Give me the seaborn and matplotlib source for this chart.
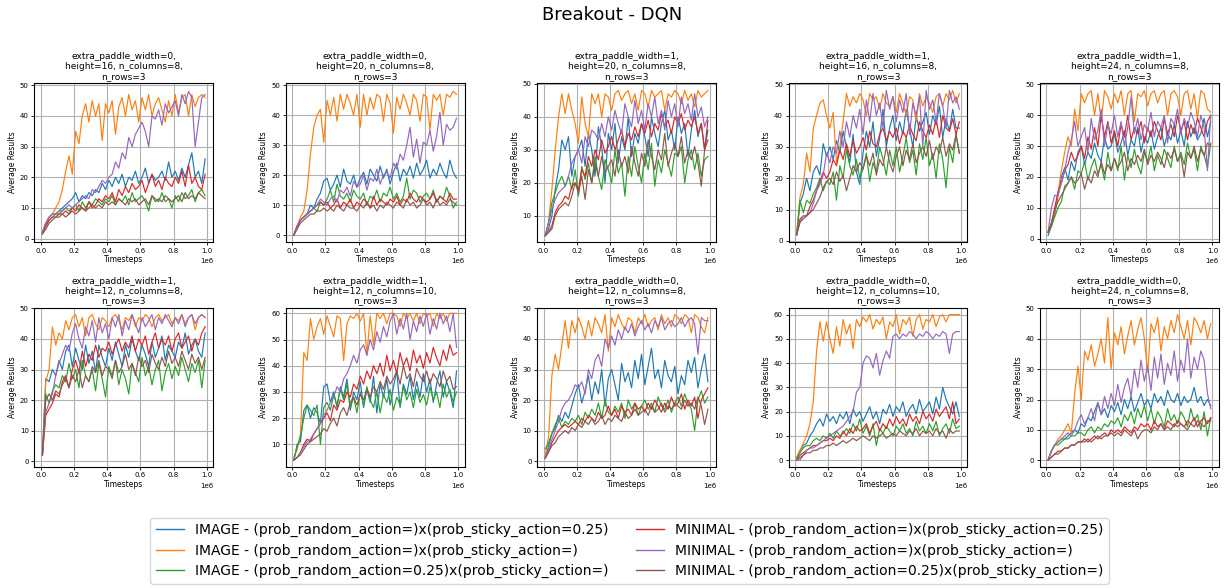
import numpy as np
import pandas as pd
import matplotlib
matplotlib.use("Agg")
import matplotlib.pyplot as plt
import seaborn as sns

# ---------------- data ----------------
SERIES = [
    "IMAGE - (prob_random_action=)x(prob_sticky_action=0.25)",
    "IMAGE - (prob_random_action=)x(prob_sticky_action=)",
    "IMAGE - (prob_random_action=0.25)x(prob_sticky_action=)",
    "MINIMAL - (prob_random_action=)x(prob_sticky_action=0.25)",
    "MINIMAL - (prob_random_action=)x(prob_sticky_action=)",
    "MINIMAL - (prob_random_action=0.25)x(prob_sticky_action=)",
]
COLORS = ["#1f77b4", "#ff7f0e", "#2ca02c", "#d62728", "#9467bd", "#8c564b"]

TITLES = [
    "extra_paddle_width=0,\nheight=16, n_columns=8,\nn_rows=3",
    "extra_paddle_width=0,\nheight=20, n_columns=8,\nn_rows=3",
    "extra_paddle_width=1,\nheight=20, n_columns=8,\nn_rows=3",
    "extra_paddle_width=1,\nheight=16, n_columns=8,\nn_rows=3",
    "extra_paddle_width=1,\nheight=24, n_columns=8,\nn_rows=3",
    "extra_paddle_width=1,\nheight=12, n_columns=8,\nn_rows=3",
    "extra_paddle_width=1,\nheight=12, n_columns=10,\nn_rows=3",
    "extra_paddle_width=0,\nheight=12, n_columns=8,\nn_rows=3",
    "extra_paddle_width=0,\nheight=12, n_columns=10,\nn_rows=3",
    "extra_paddle_width=0,\nheight=24, n_columns=8,\nn_rows=3",
]

# timesteps: 0.01e6 ... 0.99e6 every 0.02e6
TIMESTEP_START = 10000
TIMESTEP_STEP = 20000

# panel 1
p1_img_sticky = [2, 5, 7, 8, 8, 9, 10, 11, 12, 13, 15, 12, 14, 13, 15, 14, 16, 15, 18, 16, 19, 17, 20, 18, 21, 17, 20, 19, 22, 18, 20, 23, 18, 21, 19, 20, 22, 19, 25, 20, 22, 19, 23, 20, 24, 28, 20, 22, 18, 26]
p1_img_none = [2, 5, 7, 8, 10, 12, 16, 22, 27, 21, 35, 31, 40, 44, 38, 45, 40, 44, 32, 44, 41, 45, 34, 43, 46, 40, 47, 42, 45, 38, 46, 42, 47, 40, 44, 46, 42, 38, 45, 40, 47, 41, 46, 47, 40, 47, 43, 46, 47, 46]
p1_img_random = [1.5, 4, 6, 7, 8, 8, 9, 10, 9, 10, 11, 9, 12, 10, 12, 11, 13, 12, 11, 13, 12, 14, 11, 13, 12, 14, 11, 15, 12, 13, 14, 12, 9, 14, 13, 12, 15, 12, 13, 10, 14, 12, 15, 13, 14, 16, 12, 15, 16, 14]
p1_min_sticky = [2, 4, 6, 7, 7, 8, 8, 9, 8, 10, 9, 11, 10, 9, 12, 10, 11, 13, 12, 14, 13, 15, 12, 16, 14, 17, 15, 18, 16, 17, 19, 15, 18, 21, 17, 19, 16, 20, 18, 17, 20, 18, 22, 17, 24, 18, 20, 17, 16, 21]
p1_min_none = [2, 5, 7, 8, 8, 9, 9, 10, 11, 10, 11, 12, 13, 14, 13, 16, 15, 17, 19, 18, 20, 21, 25, 23, 28, 26, 33, 30, 34, 36, 38, 35, 30, 40, 39, 42, 37, 44, 41, 43, 45, 40, 47, 44, 48, 46, 30, 38, 46, 47]
p1_min_random = [1.5, 3, 5, 6, 7, 7, 8, 7, 8, 9, 8, 9, 10, 9, 10, 11, 10, 11, 10, 12, 11, 12, 11, 13, 12, 11, 13, 12, 13, 11, 12, 13, 11, 14, 12, 13, 12, 14, 13, 12, 13, 14, 12, 15, 13, 14, 13, 15, 14, 13]

# panel 2
p2_img_sticky = [0, 3, 5, 6, 7, 10, 9, 12, 14, 18, 19, 15, 17, 20, 16, 22, 18, 17, 20, 16, 19, 21, 17, 22, 20, 18, 23, 19, 22, 17, 21, 24, 18, 22, 20, 23, 19, 24, 20, 22, 25, 19, 22, 20, 24, 21, 19, 25, 21, 19]
p2_img_none = [0, 3, 6, 8, 15, 27, 36, 40, 42, 31, 45, 40, 46, 38, 47, 42, 47, 44, 40, 47, 36, 47, 40, 46, 42, 47, 46, 38, 47, 44, 34, 46, 42, 47, 44, 40, 47, 45, 38, 47, 46, 35, 47, 45, 47, 40, 47, 46, 48, 47]
p2_img_random = [0, 3, 5, 6, 7, 8, 9, 8, 11, 10, 12, 15, 11, 17, 13, 12, 14, 11, 15, 13, 12, 14, 10, 13, 12, 15, 11, 14, 13, 16, 12, 14, 11, 13, 19, 12, 15, 14, 11, 13, 14, 12, 15, 11, 13, 12, 16, 13, 9, 11]
p2_min_sticky = [0, 3, 5, 6, 7, 8, 9, 10, 11, 10, 11, 9, 10, 12, 9, 11, 10, 12, 9, 11, 10, 12, 11, 9, 13, 10, 12, 11, 10, 12, 11, 13, 10, 12, 11, 14, 12, 11, 13, 12, 11, 12, 14, 11, 13, 12, 11, 14, 12, 12]
p2_min_none = [0, 3, 5, 6, 7, 8, 9, 10, 12, 11, 10, 12, 13, 11, 15, 14, 16, 13, 18, 16, 17, 20, 15, 19, 18, 22, 17, 20, 21, 19, 24, 22, 27, 25, 30, 36, 26, 32, 24, 31, 30, 35, 28, 33, 41, 30, 37, 35, 36, 39]
p2_min_random = [0, 2, 4, 5, 6, 7, 7, 8, 8, 9, 8, 9, 8, 10, 9, 8, 10, 9, 9, 8, 10, 9, 11, 9, 10, 8, 10, 9, 11, 10, 9, 11, 10, 9, 12, 10, 11, 9, 10, 12, 10, 11, 9, 12, 10, 11, 10, 12, 11, 10]

# panel 3
p3_img_sticky = [4, 6, 10, 18, 24, 33, 30, 34, 22, 28, 30, 33, 25, 35, 30, 22, 37, 31, 20, 35, 30, 38, 26, 34, 30, 40, 28, 35, 32, 38, 34, 28, 40, 35, 31, 38, 42, 33, 36, 30, 40, 35, 38, 28, 36, 42, 34, 38, 30, 36]
p3_img_none = [4, 8, 18, 30, 40, 47, 41, 47, 42, 38, 32, 46, 38, 34, 47, 44, 47, 40, 47, 46, 42, 47, 48, 45, 47, 48, 44, 47, 42, 48, 47, 43, 48, 46, 47, 48, 42, 47, 46, 48, 47, 44, 48, 45, 47, 43, 48, 46, 47, 48]
p3_img_random = [4, 8, 14, 17, 20, 22, 19, 22, 18, 24, 16, 25, 21, 26, 20, 28, 22, 18, 27, 24, 20, 30, 23, 26, 16, 28, 22, 31, 25, 20, 29, 24, 32, 19, 27, 23, 30, 26, 22, 29, 28, 31, 20, 27, 30, 24, 29, 22, 27, 28]
p3_min_sticky = [4, 5, 7, 11, 13, 14, 16, 15, 19, 20, 18, 24, 22, 28, 25, 30, 27, 33, 29, 31, 34, 30, 33, 36, 31, 35, 33, 37, 34, 38, 35, 39, 34, 38, 36, 41, 37, 39, 35, 40, 38, 41, 36, 39, 37, 40, 35, 38, 30, 39]
p3_min_none = [4, 8, 12, 15, 17, 18, 19, 22, 26, 28, 30, 26, 34, 31, 36, 35, 33, 38, 34, 40, 36, 42, 38, 35, 44, 40, 37, 45, 38, 42, 36, 44, 40, 46, 38, 42, 36, 45, 40, 44, 37, 46, 41, 44, 39, 47, 40, 43, 37, 40]
p3_min_random = [4, 5, 6, 10, 12, 13, 14, 13, 16, 20, 17, 22, 15, 24, 20, 26, 22, 28, 23, 25, 27, 22, 30, 25, 28, 23, 31, 26, 22, 29, 25, 33, 28, 24, 30, 27, 35, 25, 29, 32, 28, 34, 26, 30, 27, 31, 26, 19, 30, 33]

# panel 4
p4_img_sticky = [2, 12, 15, 20, 16, 22, 24, 21, 31, 27, 30, 26, 32, 28, 35, 30, 25, 34, 22, 18, 28, 35, 30, 38, 27, 33, 42, 30, 36, 40, 32, 38, 34, 42, 36, 30, 40, 35, 38, 41, 34, 40, 37, 43, 33, 39, 35, 42, 36, 36]
p4_img_none = [2, 14, 18, 28, 22, 36, 40, 44, 45, 40, 36, 41, 25, 30, 38, 47, 43, 46, 44, 47, 45, 40, 47, 45, 46, 42, 47, 44, 43, 46, 41, 47, 44, 40, 46, 45, 38, 47, 43, 46, 44, 41, 46, 47, 43, 47, 45, 48, 44, 47]
p4_img_random = [2, 13, 9, 13, 12, 15, 17, 20, 16, 19, 18, 22, 13, 24, 20, 29, 24, 21, 26, 20, 23, 28, 19, 25, 22, 30, 26, 21, 29, 24, 30, 22, 27, 33, 25, 29, 21, 31, 26, 33, 24, 28, 20, 31, 26, 17, 30, 25, 34, 28]
p4_min_sticky = [2, 7, 8, 8, 11, 13, 16, 19, 22, 20, 22, 26, 24, 29, 26, 31, 27, 32, 28, 30, 33, 29, 35, 31, 30, 34, 36, 32, 35, 33, 36, 31, 35, 33, 37, 34, 32, 38, 35, 33, 37, 34, 39, 33, 40, 36, 35, 39, 34, 38]
p4_min_none = [2, 6, 8, 8, 9, 12, 16, 18, 21, 28, 25, 30, 28, 35, 30, 38, 33, 40, 36, 42, 34, 45, 38, 47, 40, 44, 36, 48, 42, 46, 38, 45, 41, 47, 34, 44, 40, 46, 30, 48, 42, 45, 38, 47, 43, 36, 48, 44, 46, 42]
p4_min_random = [2, 6, 7, 8, 9, 10, 12, 14, 17, 19, 20, 18, 22, 19, 21, 16, 20, 24, 22, 25, 23, 27, 24, 28, 21, 26, 24, 30, 25, 22, 27, 30, 24, 29, 26, 31, 25, 28, 30, 27, 32, 26, 30, 28, 33, 27, 31, 29, 34, 28]

# panel 5
p5_img_sticky = [1, 4, 8, 14, 20, 23, 19, 25, 22, 28, 30, 24, 28, 26, 31, 27, 25, 33, 29, 30, 34, 28, 31, 35, 27, 32, 30, 36, 28, 33, 31, 35, 29, 33, 36, 30, 34, 32, 37, 31, 35, 30, 38, 33, 36, 32, 34, 39, 33, 38]
p5_img_none = [2, 4, 8, 15, 22, 28, 33, 30, 42, 35, 47, 44, 47, 48, 40, 47, 38, 48, 46, 42, 47, 44, 48, 40, 47, 48, 38, 47, 46, 48, 43, 47, 48, 44, 47, 48, 40, 47, 48, 46, 40, 47, 48, 42, 47, 39, 48, 47, 42, 41]
p5_img_random = [2, 4, 7, 10, 12, 17, 18, 20, 16, 22, 21, 25, 19, 23, 26, 21, 24, 19, 28, 22, 26, 22, 30, 19, 27, 23, 29, 24, 21, 28, 25, 30, 22, 27, 24, 29, 26, 23, 30, 25, 28, 24, 31, 26, 29, 22, 30, 27, 23, 31]
p5_min_sticky = [2, 5, 10, 15, 18, 22, 24, 28, 25, 27, 30, 26, 33, 29, 36, 30, 40, 33, 38, 31, 35, 30, 37, 33, 40, 32, 36, 34, 38, 31, 36, 33, 38, 35, 32, 39, 34, 37, 33, 40, 35, 38, 32, 37, 34, 39, 36, 33, 38, 40]
p5_min_none = [2, 10, 14, 14, 18, 22, 28, 32, 38, 30, 33, 36, 28, 39, 32, 35, 42, 30, 37, 34, 40, 33, 38, 30, 36, 46, 34, 39, 32, 37, 35, 41, 33, 38, 36, 40, 31, 39, 37, 42, 34, 39, 36, 41, 38, 33, 40, 36, 22, 40]
p5_min_random = [2, 5, 9, 12, 14, 16, 18, 20, 18, 19, 21, 16, 20, 18, 22, 20, 25, 21, 24, 22, 26, 23, 25, 28, 22, 26, 24, 27, 25, 29, 24, 27, 25, 28, 26, 23, 28, 26, 29, 25, 27, 20, 28, 26, 30, 25, 29, 27, 31, 30]

# panel 6
p6_img_sticky = [2, 27, 26, 30, 28, 33, 30, 36, 38, 31, 37, 33, 30, 38, 32, 36, 29, 38, 34, 31, 37, 33, 39, 35, 31, 38, 34, 40, 36, 33, 38, 35, 31, 39, 34, 37, 41, 33, 38, 36, 34, 39, 37, 42, 35, 38, 40, 36, 34, 42]
p6_img_none = [2, 26, 30, 44, 38, 42, 40, 46, 43, 47, 48, 44, 47, 41, 47, 48, 45, 43, 47, 46, 44, 47, 48, 46, 43, 47, 46, 48, 44, 47, 46, 48, 47, 44, 47, 48, 46, 47, 48, 45, 47, 46, 48, 45, 47, 48, 43, 47, 48, 47]
p6_img_random = [2, 22, 19, 23, 25, 24, 28, 26, 32, 27, 30, 24, 33, 28, 26, 30, 23, 32, 27, 21, 31, 28, 33, 25, 30, 27, 22, 32, 29, 26, 34, 28, 31, 25, 30, 33, 23, 29, 32, 27, 31, 28, 34, 30, 26, 32, 29, 33, 24, 33]
p6_min_sticky = [2, 15, 17, 19, 22, 21, 26, 28, 24, 30, 33, 29, 36, 31, 35, 33, 38, 34, 37, 36, 39, 35, 38, 40, 36, 39, 37, 41, 36, 40, 38, 41, 35, 39, 42, 37, 40, 38, 41, 36, 40, 42, 37, 39, 41, 36, 40, 38, 42, 44]
p6_min_none = [2, 16, 19, 22, 28, 32, 35, 38, 36, 42, 45, 40, 37, 44, 41, 46, 39, 47, 42, 45, 40, 47, 44, 48, 41, 46, 43, 48, 45, 42, 47, 44, 46, 48, 43, 47, 45, 48, 46, 44, 47, 45, 48, 44, 47, 48, 45, 47, 48, 47]
p6_min_random = [2, 20, 22, 20, 23, 22, 25, 27, 24, 28, 26, 30, 24, 28, 26, 31, 29, 33, 28, 31, 30, 27, 33, 29, 31, 35, 30, 32, 28, 34, 31, 33, 29, 35, 32, 30, 34, 31, 36, 32, 34, 31, 36, 33, 30, 35, 32, 34, 30, 34]

# panel 7
p7_img_sticky = [4, 10, 11, 23, 25, 20, 24, 22, 18, 32, 33, 26, 30, 24, 32, 28, 35, 23, 30, 27, 34, 24, 31, 26, 36, 22, 33, 28, 35, 25, 32, 38, 24, 33, 29, 36, 27, 34, 28, 37, 30, 35, 26, 33, 38, 28, 34, 30, 24, 38]
p7_img_none = [5, 8, 14, 45, 42, 58, 50, 55, 58, 52, 59, 55, 51, 59, 58, 42, 56, 59, 58, 60, 57, 60, 44, 59, 48, 60, 58, 60, 56, 60, 60, 59, 55, 60, 58, 60, 57, 60, 56, 60, 59, 60, 55, 60, 58, 60, 57, 60, 60, 60]
p7_img_random = [4, 9, 13, 20, 25, 23, 21, 25, 10, 24, 26, 23, 29, 25, 31, 27, 33, 24, 28, 22, 30, 25, 32, 27, 24, 30, 22, 29, 26, 31, 23, 28, 25, 32, 27, 30, 24, 31, 26, 29, 25, 32, 27, 30, 24, 33, 28, 31, 26, 30]
p7_min_sticky = [4, 5, 7, 10, 12, 11, 14, 16, 18, 20, 22, 19, 25, 23, 27, 26, 30, 28, 33, 31, 36, 33, 38, 35, 40, 37, 41, 36, 44, 38, 42, 37, 45, 40, 43, 38, 46, 41, 44, 39, 45, 41, 47, 43, 40, 46, 42, 48, 44, 45]
p7_min_none = [4, 5, 7, 9, 11, 12, 14, 16, 18, 21, 23, 26, 28, 32, 30, 35, 37, 40, 44, 41, 46, 48, 44, 50, 46, 53, 49, 55, 51, 57, 60, 52, 58, 54, 60, 50, 57, 53, 59, 55, 60, 52, 58, 54, 60, 56, 59, 53, 60, 47]
p7_min_random = [4, 5, 6, 8, 10, 11, 12, 13, 14, 16, 15, 18, 20, 17, 22, 24, 21, 26, 28, 25, 29, 27, 31, 28, 32, 30, 34, 31, 36, 33, 35, 38, 33, 40, 35, 37, 32, 39, 36, 34, 38, 33, 37, 35, 32, 38, 34, 36, 31, 32]

# panel 8
p8_img_sticky = [1, 5, 9, 11, 15, 13, 16, 14, 18, 22, 25, 19, 23, 28, 20, 26, 22, 30, 18, 27, 30, 25, 20, 32, 26, 29, 24, 33, 27, 35, 25, 31, 37, 27, 30, 24, 33, 28, 26, 31, 22, 28, 25, 33, 29, 34, 24, 30, 35, 26]
p8_img_none = [2, 8, 28, 35, 30, 38, 46, 37, 46, 42, 47, 44, 40, 46, 41, 47, 45, 42, 48, 36, 47, 44, 48, 45, 43, 47, 46, 42, 47, 45, 48, 44, 46, 47, 43, 48, 45, 47, 44, 48, 47, 45, 48, 47, 42, 48, 47, 44, 42, 47]
p8_img_random = [4, 6, 9, 12, 14, 11, 13, 12, 14, 13, 15, 12, 16, 14, 17, 15, 19, 14, 20, 16, 15, 18, 16, 19, 14, 20, 17, 19, 15, 18, 20, 17, 19, 16, 21, 18, 17, 20, 16, 19, 21, 18, 22, 19, 17, 10, 20, 23, 19, 21]
p8_min_sticky = [1, 3, 6, 8, 10, 11, 12, 11, 12, 13, 12, 14, 13, 15, 14, 13, 16, 14, 15, 18, 15, 17, 14, 18, 16, 17, 15, 19, 17, 18, 16, 19, 17, 20, 18, 16, 19, 17, 21, 18, 19, 22, 17, 20, 18, 21, 14, 20, 22, 24]
p8_min_none = [1, 4, 7, 10, 13, 17, 19, 20, 22, 25, 24, 26, 22, 30, 27, 33, 35, 31, 40, 37, 41, 38, 43, 40, 44, 42, 45, 41, 44, 46, 43, 45, 42, 46, 44, 47, 43, 45, 46, 44, 45, 47, 44, 46, 47, 45, 35, 47, 46, 46]
p8_min_random = [1, 3, 5, 6, 8, 9, 10, 9, 11, 10, 12, 11, 13, 12, 14, 12, 13, 15, 12, 14, 13, 15, 14, 13, 16, 14, 15, 17, 15, 16, 17, 15, 18, 16, 17, 19, 16, 18, 17, 19, 18, 17, 20, 18, 19, 17, 21, 18, 12, 17]

# panel 9
p9_img_sticky = [1, 4, 6, 7, 10, 12, 15, 17, 14, 19, 16, 18, 15, 19, 17, 20, 15, 21, 18, 20, 16, 19, 22, 17, 20, 15, 21, 19, 23, 18, 22, 20, 24, 18, 21, 23, 19, 25, 20, 22, 24, 19, 26, 21, 30, 25, 22, 19, 24, 18]
p9_img_none = [1, 4, 7, 10, 15, 24, 45, 57, 49, 57, 50, 44, 55, 47, 58, 52, 56, 46, 58, 55, 59, 57, 60, 54, 58, 56, 59, 50, 57, 55, 60, 52, 58, 56, 59, 51, 58, 60, 54, 58, 57, 60, 55, 59, 60, 57, 60, 60, 60, 60]
p9_img_random = [1, 3, 5, 6, 6, 8, 9, 8, 10, 9, 11, 9, 12, 10, 11, 13, 11, 15, 12, 17, 11, 14, 10, 15, 6, 13, 11, 14, 12, 10, 14, 12, 15, 11, 13, 10, 16, 12, 14, 11, 15, 12, 16, 10, 13, 15, 11, 17, 13, 14]
p9_min_sticky = [0, 2, 3, 4, 5, 6, 6, 7, 8, 8, 9, 8, 10, 9, 12, 10, 13, 11, 14, 12, 13, 15, 11, 14, 16, 12, 15, 13, 17, 14, 18, 15, 17, 14, 19, 16, 18, 15, 20, 17, 19, 16, 21, 18, 20, 22, 17, 24, 15, 17]
p9_min_none = [0, 0, 2, 4, 5, 5, 6, 7, 8, 9, 10, 11, 12, 13, 14, 16, 18, 20, 28, 30, 40, 43, 42, 38, 44, 35, 41, 45, 42, 51, 52, 50, 52, 51, 53, 52, 50, 52, 51, 53, 52, 50, 52, 51, 53, 52, 44, 52, 53, 53]
p9_min_random = [0, 1, 2, 3, 3, 4, 4, 5, 5, 6, 6, 7, 6, 7, 8, 7, 8, 9, 8, 9, 10, 9, 8, 10, 9, 10, 11, 9, 10, 11, 10, 12, 11, 10, 12, 11, 13, 10, 12, 11, 12, 10, 13, 11, 12, 9, 13, 11, 12, 12]

# panel 10
p10_img_sticky = [0, 3, 5, 6, 7, 7, 8, 9, 10, 9, 12, 11, 14, 13, 16, 19, 15, 17, 14, 18, 16, 19, 15, 20, 17, 21, 16, 19, 22, 18, 20, 17, 22, 19, 21, 18, 23, 20, 19, 22, 18, 21, 19, 20, 24, 19, 21, 18, 20, 18]
p10_img_none = [0, 3, 5, 7, 8, 10, 12, 9, 22, 31, 20, 36, 33, 38, 31, 35, 40, 32, 47, 30, 42, 38, 44, 35, 41, 46, 38, 43, 47, 40, 29, 45, 42, 47, 36, 44, 40, 46, 42, 48, 44, 40, 46, 38, 47, 45, 42, 46, 40, 45]
p10_img_random = [0, 3, 5, 5, 6, 7, 7, 8, 8, 9, 9, 8, 10, 11, 9, 11, 10, 12, 11, 13, 12, 14, 11, 15, 13, 16, 12, 17, 14, 18, 13, 17, 12, 16, 14, 11, 17, 13, 15, 12, 16, 14, 11, 17, 13, 15, 10, 16, 8, 14]
p10_min_sticky = [0, 1, 2, 3, 3, 4, 4, 5, 5, 6, 6, 7, 6, 7, 8, 7, 8, 9, 8, 10, 9, 10, 9, 11, 10, 9, 11, 10, 12, 11, 12, 10, 13, 11, 12, 10, 13, 12, 11, 13, 12, 11, 13, 12, 14, 11, 13, 14, 12, 14]
p10_min_none = [0, 3, 5, 6, 7, 8, 9, 8, 10, 13, 15, 12, 14, 17, 13, 19, 15, 21, 17, 22, 18, 25, 19, 24, 27, 21, 30, 24, 33, 26, 31, 23, 34, 27, 35, 25, 32, 28, 36, 26, 33, 29, 40, 27, 34, 30, 36, 33, 22, 17]
p10_min_random = [0, 1, 2, 2, 3, 4, 4, 5, 5, 6, 6, 6, 7, 6, 7, 8, 7, 8, 8, 9, 8, 9, 8, 10, 9, 8, 10, 7, 9, 10, 10, 9, 11, 10, 12, 10, 11, 10, 12, 11, 12, 11, 10, 12, 11, 13, 12, 11, 13, 13]

PANEL_DATA = [
    [p1_img_sticky, p1_img_none, p1_img_random, p1_min_sticky, p1_min_none, p1_min_random],
    [p2_img_sticky, p2_img_none, p2_img_random, p2_min_sticky, p2_min_none, p2_min_random],
    [p3_img_sticky, p3_img_none, p3_img_random, p3_min_sticky, p3_min_none, p3_min_random],
    [p4_img_sticky, p4_img_none, p4_img_random, p4_min_sticky, p4_min_none, p4_min_random],
    [p5_img_sticky, p5_img_none, p5_img_random, p5_min_sticky, p5_min_none, p5_min_random],
    [p6_img_sticky, p6_img_none, p6_img_random, p6_min_sticky, p6_min_none, p6_min_random],
    [p7_img_sticky, p7_img_none, p7_img_random, p7_min_sticky, p7_min_none, p7_min_random],
    [p8_img_sticky, p8_img_none, p8_img_random, p8_min_sticky, p8_min_none, p8_min_random],
    [p9_img_sticky, p9_img_none, p9_img_random, p9_min_sticky, p9_min_none, p9_min_random],
    [p10_img_sticky, p10_img_none, p10_img_random, p10_min_sticky, p10_min_none, p10_min_random],
]

# y-axis limits per panel (layout)
YLIMS = [(-1.2, 50.8), (-2.4, 50.8), (2.0, 50.3), (-0.4, 50.4), (-1.2, 50.5),
         (-1.9, 50.3), (1.4, 62.2), (-1.9, 50.3), (-2.8, 62.9), (-2.2, 50.3)]

# ---------------- plotting ----------------
plt.rcParams["font.family"] = ["DejaVu Sans"]
fig, axes = plt.subplots(2, 5, figsize=(12.25, 5.88), dpi=100)
fig.subplots_adjust(left=0.028, right=0.995, top=0.859, bottom=0.206,
                    wspace=0.405, hspace=0.41)

palette = dict(zip(SERIES, COLORS))

for k, ax in enumerate(axes.flat):
    rows = []
    for name, vals in zip(SERIES, PANEL_DATA[k]):
        for i, v in enumerate(vals):
            rows.append((TIMESTEP_START + TIMESTEP_STEP * i, v, name))
    df = pd.DataFrame(rows, columns=["Timesteps", "Average Results", "Series"])
    sns.lineplot(data=df, x="Timesteps", y="Average Results", hue="Series",
                 hue_order=SERIES, palette=palette, linewidth=0.85,
                 legend=False, ax=ax)
    ax.set_title(TITLES[k], fontsize=6.5, pad=3, linespacing=1.1)
    ax.set_ylim(*YLIMS[k])
    ax.grid(True, color="#b0b0b0", linewidth=0.8)
    ax.set_axisbelow(True)
    ax.tick_params(labelsize=5, length=2.5, width=0.6, pad=1.5)
    ax.xaxis.get_offset_text().set_fontsize(5)
    ax.set_xlabel("Timesteps", fontsize=5.5, labelpad=1)
    ax.set_ylabel("Average Results", fontsize=5.5, labelpad=2)
    for s in ax.spines.values():
        s.set_linewidth(0.8)

handles = [plt.Line2D([], [], color=c, linewidth=1.0) for c in COLORS]
fig.legend(handles, SERIES, loc="lower center", bbox_to_anchor=(0.514, 0.0),
           ncol=2, fontsize=10, frameon=True, columnspacing=2.0,
           handlelength=2.0, labelspacing=0.45, borderaxespad=0.3)

fig.suptitle("Breakout - DQN", fontsize=13, y=0.99)

fig.savefig("out.png", dpi=100)
